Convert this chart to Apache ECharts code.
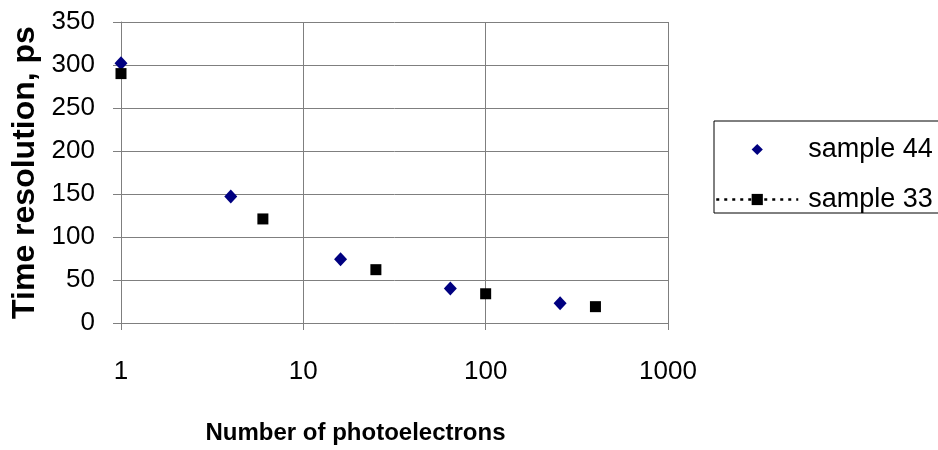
<!DOCTYPE html>
<html>
<head>
<meta charset="utf-8">
<script src="https://cdn.jsdelivr.net/npm/echarts@6/dist/echarts.min.js"></script>
<style>
  html, body { margin: 0; padding: 0; background: #fff; }
  #chart { width: 938px; height: 450px; }
</style>
</head>
<body>
<div id="chart"></div>
<script>
// Time resolution vs. number of photoelectrons for two samples
const photoelectrons44 = [1, 4, 16, 64, 256];
const resolution44 = [302, 147, 74, 40, 23];
const photoelectrons33 = [1, 6, 25, 100, 400];
const resolution33 = [290, 121, 62, 34, 19];

const seriesNames = ['sample 44', 'sample 33'];
const xAxisTitle = 'Number of photoelectrons';
const yAxisTitle = 'Time resolution, ps';

const pairs = (xs, ys) => xs.map((x, i) => [x, ys[i]]);

const chart = echarts.init(document.getElementById('chart'), null, { renderer: 'canvas' });

const gridColor = '#7f7f7f';
const fontFamily = 'Liberation Sans, Arial, sans-serif';

chart.setOption({
  backgroundColor: '#ffffff',
  animation: false,
  grid: { left: 121, right: 270, top: 22, bottom: 127, containLabel: false, outerBoundsMode: 'none' },
  xAxis: {
    type: 'log',
    logBase: 10,
    min: 1,
    max: 1000,
    name: xAxisTitle,
    nameLocation: 'middle',
    nameGap: 98,
    // extra right padding nudges the title left of the plot centre
    nameTextStyle: { fontFamily, fontWeight: 'bold', fontSize: 24, color: '#000', padding: [0, 78, 0, 0] },
    axisLine: { show: true, lineStyle: { color: gridColor, width: 1 } },
    axisTick: { show: true, length: 7, lineStyle: { color: gridColor } },
    minorTick: { show: false },
    axisLabel: { fontFamily, fontSize: 26, color: '#000', margin: 36, formatter: (v) => String(Math.round(v)) },
    splitLine: { show: true, lineStyle: { color: gridColor, width: 1 } }
  },
  yAxis: {
    type: 'value',
    min: 0,
    max: 350,
    interval: 50,
    name: yAxisTitle,
    nameLocation: 'middle',
    nameGap: 79,
    nameTextStyle: { fontFamily, fontWeight: 'bold', fontSize: 32, color: '#000' },
    axisLine: { show: true, lineStyle: { color: gridColor, width: 1 } },
    axisTick: { show: true, length: 8, lineStyle: { color: gridColor } },
    axisLabel: { fontFamily, fontSize: 26, color: '#000', margin: 26 },
    splitLine: { show: true, lineStyle: { color: gridColor, width: 1 } }
  },
  legend: {
    orient: 'vertical',
    left: 714,
    top: 121,
    padding: [15, 40, 0, 1],
    borderColor: '#000',
    borderWidth: 1,
    itemWidth: 82,
    itemHeight: 14,
    itemGap: 23,
    textStyle: { fontFamily, fontSize: 27, color: '#000', padding: [0, 0, 0, 5] },
    data: [
      { name: seriesNames[0] },
      { name: seriesNames[1], lineStyle: { opacity: 1, type: [3, 5], width: 2.5, color: '#000' } }
    ]
  },
  series: [
    {
      name: seriesNames[0],
      type: 'line',
      data: pairs(photoelectrons44, resolution44),
      symbol: 'diamond',
      symbolSize: [13, 14],
      itemStyle: { color: '#000080' },
      lineStyle: { opacity: 0 }
    },
    {
      name: seriesNames[1],
      type: 'line',
      data: pairs(photoelectrons33, resolution33),
      symbol: 'rect',
      symbolSize: 11,
      itemStyle: { color: '#000000' },
      lineStyle: { opacity: 0, type: 'dotted', color: '#000' }
    }
  ]
});
</script>
</body>
</html>
